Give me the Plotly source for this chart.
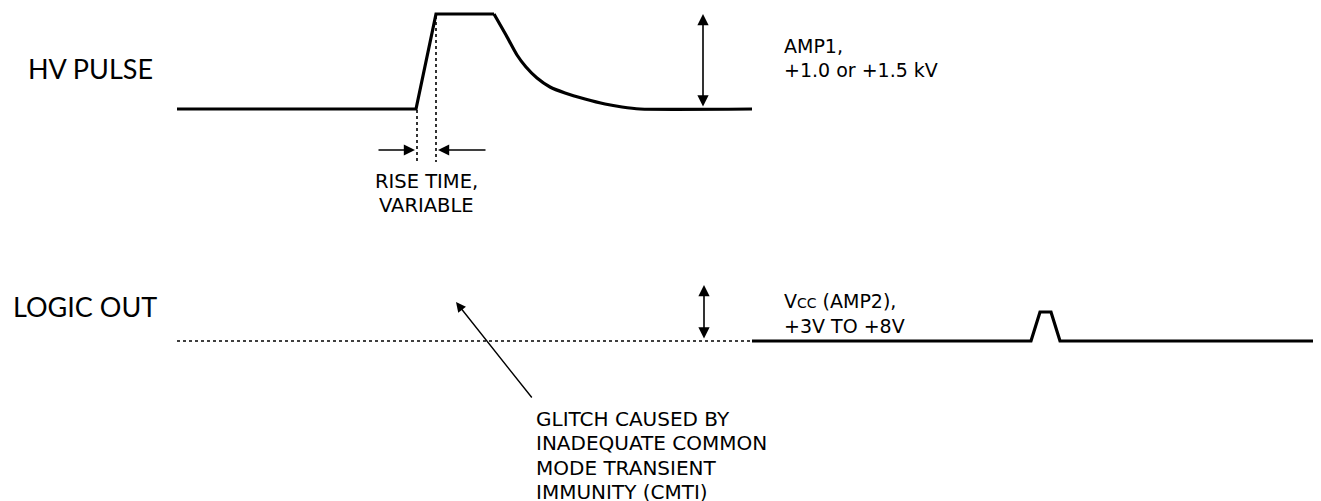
import plotly.graph_objects as go

# HV pulse waveform (diagram pixel coordinates)
hv_edge_x = [177, 416, 436, 494]
hv_edge_y = [109, 109, 14, 14]
hv_decay_x = [494, 506, 517, 526, 537, 550, 565, 585, 605, 622, 640, 752]
hv_decay_y = [14, 35, 55, 67, 78, 87, 93, 99, 104, 107, 109, 109]

# Logic out: dotted region and solid part with glitch
logic_dot_x = [177, 752]
logic_dot_y = [341, 341]
logic_x = [752, 1031, 1040, 1051, 1060, 1321]
logic_y = [341, 341, 312, 312, 341, 341]

# Rise-time markers
rise_marker_x = [417, 436]
rise_marker_top = [110, 16]
rise_marker_bottom = [162, 162]

labels = ["HV PULSE", "LOGIC OUT"]
amp1_text = ["AMP1,", "+1.0 or +1.5 kV"]
amp2_text = ["V<span style='font-size:14px'>CC</span> (AMP2),", "+3V TO +8V"]
rise_text = ["RISE TIME,", "VARIABLE"]
glitch_text = ["GLITCH CAUSED BY", "INADEQUATE COMMON", "MODE TRANSIENT", "IMMUNITY (CMTI)"]

fig = go.Figure()
fig.add_trace(go.Scatter(x=hv_edge_x, y=hv_edge_y, mode="lines",
                         line=dict(color="black", width=3.2), hoverinfo="skip"))
fig.add_trace(go.Scatter(x=hv_decay_x, y=hv_decay_y, mode="lines",
                         line=dict(color="black", width=3.2, shape="spline", smoothing=0.6),
                         hoverinfo="skip"))
fig.add_trace(go.Scatter(x=logic_dot_x, y=logic_dot_y, mode="lines",
                         line=dict(color="black", width=1.6, dash="dot"), hoverinfo="skip"))
fig.add_trace(go.Scatter(x=logic_x, y=logic_y, mode="lines",
                         line=dict(color="black", width=3.2), hoverinfo="skip"))
for mx, t, b in zip(rise_marker_x, rise_marker_top, rise_marker_bottom):
    fig.add_trace(go.Scatter(x=[mx, mx], y=[t, b], mode="lines",
                             line=dict(color="black", width=1.6, dash="dot"), hoverinfo="skip"))

ann = []
def arrow(x0, y0, x1, y1, both=False, width=1.6, size=1.4):
    ann.append(dict(x=x1, y=y1, ax=x0, ay=y0, xref="x", yref="y", axref="x", ayref="y",
                    showarrow=True, arrowhead=2, arrowsize=size, arrowwidth=width,
                    arrowside="end+start" if both else "end", arrowcolor="black", text=""))

arrow(703, 108, 703, 14, both=True)
arrow(704, 340, 704, 285, both=True)
arrow(377, 150, 415, 150)
arrow(487, 150, 438, 150)
arrow(533, 399, 456, 302, width=1.4)

big_font = dict(family="Lato, sans-serif", size=27, color="black")
mid_font = dict(family="DejaVu Sans, sans-serif", size=19, color="black")
rise_font = dict(family="DejaVu Sans, sans-serif", size=19.5, color="black")
glitch_font = dict(family="DejaVu Sans, sans-serif", size=20, color="black")

ann.append(dict(x=26, y=68, text=labels[0], showarrow=False, xanchor="left", yanchor="middle", font=big_font))
ann.append(dict(x=11, y=306, text=labels[1], showarrow=False, xanchor="left", yanchor="middle", font=big_font))
for i, t in enumerate(amp1_text):
    ann.append(dict(x=782, y=46 + 24 * i, text=t, showarrow=False, xanchor="left", yanchor="middle", font=mid_font))
for i, t in enumerate(amp2_text):
    ann.append(dict(x=782, y=301 + 25 * i, text=t, showarrow=False, xanchor="left", yanchor="middle", font=mid_font))
for i, t in enumerate(rise_text):
    ann.append(dict(x=426, y=181 + 24 * i, text=t, showarrow=False, xanchor="center", yanchor="middle", font=rise_font))
for i, t in enumerate(glitch_text):
    ann.append(dict(x=534, y=419 + 24.3 * i, text=t, showarrow=False, xanchor="left", yanchor="middle", font=glitch_font))

for a in ann:
    a.setdefault("xref", "x")
    a.setdefault("yref", "y")

# page body has an 8px margin, so offset the ranges to keep pixel-aligned coordinates
fig.update_layout(
    width=1321, height=501, margin=dict(l=0, r=0, t=0, b=0),
    paper_bgcolor="white", plot_bgcolor="white", showlegend=False,
    xaxis=dict(range=[8, 1329], visible=False, fixedrange=True),
    yaxis=dict(range=[509, 8], visible=False, fixedrange=True),
    annotations=ann,
)
fig.write_html("out.html")
